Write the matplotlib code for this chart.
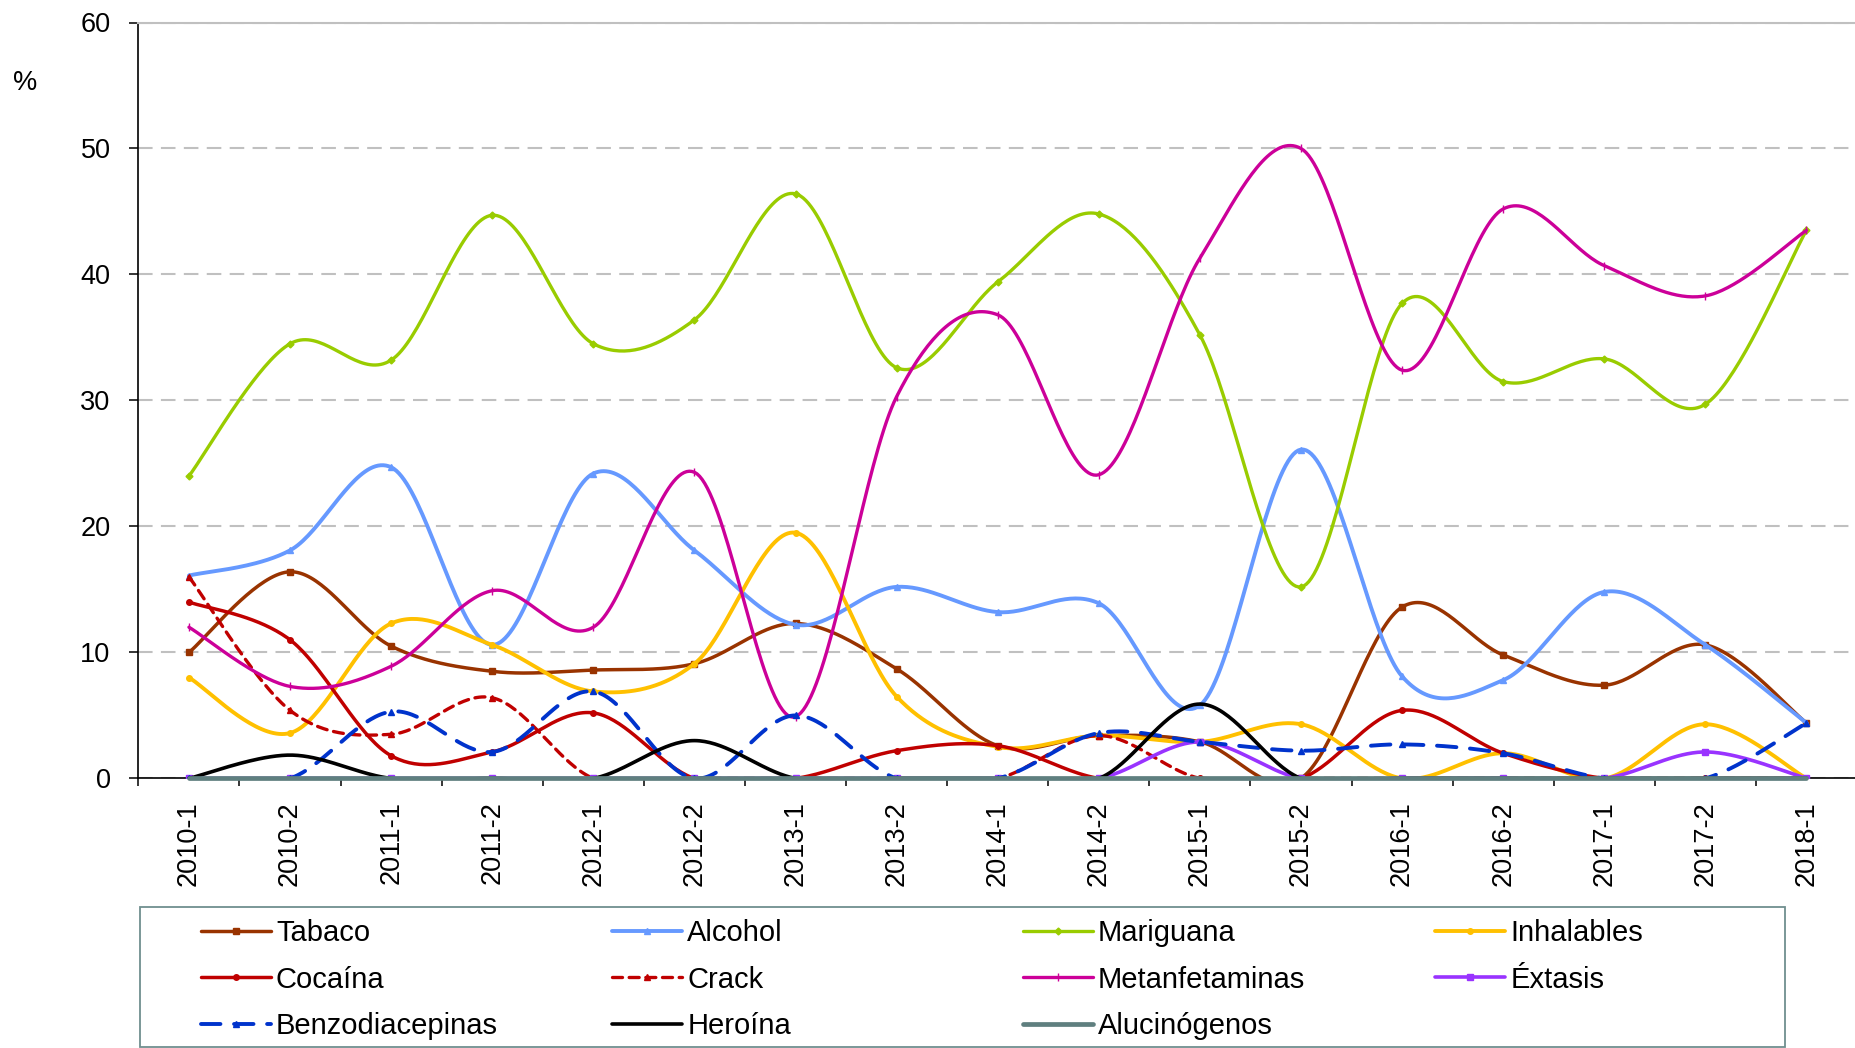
import numpy as np
import matplotlib
matplotlib.use('Agg')
import matplotlib.pyplot as plt
from matplotlib.lines import Line2D
from matplotlib.patches import Rectangle

plt.rcParams['font.family'] = ['Liberation Sans', 'DejaVu Sans']

periods = ['2010-1', '2010-2', '2011-1', '2011-2', '2012-1', '2012-2', '2013-1', '2013-2',
           '2014-1', '2014-2', '2015-1', '2015-2', '2016-1', '2016-2', '2017-1', '2017-2', '2018-1']

tabaco = [10.0, 16.4, 10.5, 8.5, 8.6, 9.1, 12.3, 8.7, 2.6, 3.4, 2.9, 0.0, 13.6, 9.8, 7.4, 10.6, 4.4]
alcohol = [16.1, 18.1, 24.7, 10.6, 24.2, 18.1, 12.2, 15.2, 13.2, 13.9, 5.8, 26.1, 8.1, 7.8, 14.8, 10.6, 4.4]
mariguana = [24.0, 34.5, 33.2, 44.7, 34.5, 36.4, 46.4, 32.6, 39.4, 44.8, 35.2, 15.2, 37.7, 31.5, 33.3, 29.7, 43.5]
inhalables = [8.0, 3.6, 12.3, 10.6, 6.9, 9.1, 19.5, 6.5, 2.5, 3.4, 2.9, 4.3, 0.0, 2.0, 0.0, 4.3, 0.0]
cocaina = [14.0, 11.0, 1.8, 2.1, 5.2, 0.0, 0.0, 2.2, 2.6, 0.0, 0.0, 0.0, 5.4, 2.0, 0.0, 0.0, 0.0]
crack = [16.0, 5.4, 3.5, 6.4, 0.0, 0.0, 0.0, 0.0, 0.0, 3.4, 0.0, 0.0, 0.0, 0.0, 0.0, 0.0, 0.0]
metanfetaminas = [12.0, 7.3, 8.9, 14.9, 12.0, 24.3, 4.9, 30.3, 36.8, 24.1, 41.3, 50.0, 32.4, 45.2, 40.7, 38.3, 43.5]
extasis = [0.0, 0.0, 0.0, 0.0, 0.0, 0.0, 0.0, 0.0, 0.0, 0.0, 2.9, 0.0, 0.0, 0.0, 0.0, 2.1, 0.0]
benzodiacepinas = [0.0, 0.0, 5.3, 2.1, 6.9, 0.0, 5.0, 0.0, 0.0, 3.6, 2.9, 2.2, 2.7, 2.0, 0.0, 0.0, 4.4]
heroina = [0.0, 1.85, 0.0, 0.0, 0.0, 3.0, 0.0, 0.0, 0.0, 0.0, 5.9, 0.0, 0.0, 0.0, 0.0, 0.0, 0.0]
alucinogenos = [0.0, 0.0, 0.0, 0.0, 0.0, 0.0, 0.0, 0.0, 0.0, 0.0, 0.0, 0.0, 0.0, 0.0, 0.0, 0.0, 0.0]

y_ticks = [0, 10, 20, 30, 40, 50, 60]

series = [
    ('Tabaco', tabaco, dict(color='#993300', lw=2.5, marker='s', ms=4.5)),
    ('Alcohol', alcohol, dict(color='#6699FF', lw=2.8, marker='^', ms=4.5)),
    ('Mariguana', mariguana, dict(color='#99CC00', lw=2.4, marker='D', ms=3.5)),
    ('Inhalables', inhalables, dict(color='#FFC000', lw=2.8, marker='o', ms=4)),
    ('Cocaína', cocaina, dict(color='#C00000', lw=2.5, marker='o', ms=4)),
    ('Crack', crack, dict(color='#C00000', lw=2.4, marker='^', ms=4, dashes=(3, 2))),
    ('Metanfetaminas', metanfetaminas, dict(color='#CC0099', lw=2.4, marker='|', ms=6)),
    ('Éxtasis', extasis, dict(color='#9933FF', lw=2.6, marker='s', ms=4.5)),
    ('Benzodiacepinas', benzodiacepinas, dict(color='#0033CC', lw=2.8, marker='^', ms=4, dashes=(5, 3.5))),
    ('Heroína', heroina, dict(color='#000000', lw=2.6, marker=None, ms=0)),
    ('Alucinógenos', alucinogenos, dict(color='#5F7F7F', lw=3.4, marker=None, ms=0)),
]


def smooth(y, n=40):
    y = np.asarray(y, float)
    x = np.arange(len(y), dtype=float)
    P = np.column_stack([x, y])
    Pext = np.vstack([P[0], P, P[-1]])
    t = np.linspace(0, 1, n)[:, None]
    out = []
    for i in range(len(P) - 1):
        p0, p1, p2, p3 = Pext[i], Pext[i + 1], Pext[i + 2], Pext[i + 3]
        c1 = p1 + (p2 - p0) / 6.0
        c2 = p2 - (p3 - p1) / 6.0
        seg = ((1 - t) ** 3) * p1 + 3 * ((1 - t) ** 2) * t * c1 + 3 * (1 - t) * t ** 2 * c2 + t ** 3 * p2
        out.append(seg if i == 0 else seg[1:])
    seg = np.vstack(out)
    return seg[:, 0], seg[:, 1]


W, H = 1855, 1048
fig = plt.figure(figsize=(W / 100, H / 100), dpi=100)
left = 138.4 / W
bottom = 1 - 778.4 / H
top = 1 - 22.5 / H
ax = fig.add_axes([left, bottom, (1857 - 138.4) / W, top - bottom])

x = np.arange(len(periods))
handles = {}
for k, (name, vals, st) in enumerate(series):
    sx, sy = smooth(vals)
    kw = dict(color=st['color'], lw=st['lw'], solid_capstyle='round', dash_capstyle='round')
    ls = '-'
    if 'dashes' in st:
        ls = (0, st['dashes'])
    is_bottom = name == 'Alucinógenos'
    ax.plot(sx, sy, linestyle=ls, zorder=(20 if is_bottom else 3 + k), clip_on=not is_bottom, **kw)
    if st['marker']:
        ax.plot(x, vals, linestyle='none', marker=st['marker'], ms=st['ms'], color=st['color'],
                mec=st['color'], zorder=3 + k)
    handles[name] = Line2D([], [], color=st['color'], lw=st['lw'], linestyle=ls,
                           marker=st['marker'] if st['marker'] else None, ms=st['ms'],
                           solid_capstyle='round', dash_capstyle='round')

ax.set_xlim(-0.5, 16.5)
ax.set_ylim(0, 60)
ax.set_yticks(y_ticks)
ax.set_yticklabels([str(v) for v in y_ticks], fontsize=19.5)
ax.set_xticks(x)
ax.set_xticklabels(periods, rotation=90, fontsize=19.5, va='top', ha='center')
ax.set_xticks(np.arange(-0.5, 17, 1.0), minor=True)
ax.tick_params(axis='x', which='major', length=0, pad=16.5)
ax.tick_params(axis='x', which='minor', length=6, width=1.1, direction='out', color='black')
ax.tick_params(axis='y', which='major', length=6.5, width=1.1, direction='out', pad=13.5)

for sp in ['left', 'bottom']:
    ax.spines[sp].set_linewidth(1.2)
    ax.spines[sp].set_color('black')
ax.spines['right'].set_visible(False)
ax.spines['top'].set_color('#c0c0c0')
ax.spines['top'].set_linewidth(1.5)
ax.yaxis.grid(True, color='#c0c0c0', linestyle=(0, (7, 4)), linewidth=1.5)
ax.set_axisbelow(True)

fig.text(25 / W, 1 - 83 / H, '%', fontsize=19.5, ha='center', va='center')

columns = [
    ['Tabaco', 'Cocaína', 'Benzodiacepinas'],
    ['Alcohol', 'Crack', 'Heroína'],
    ['Mariguana', 'Metanfetaminas', 'Alucinógenos'],
    ['Inhalables', 'Éxtasis'],
]
col_x = [200.7, 612.0, 1022.5, 1435.0]
for cx, names in zip(col_x, columns):
    fig.legend([handles[n] for n in names], names, loc='upper left',
               bbox_to_anchor=(cx / W, 1 - 919 / H), bbox_transform=fig.transFigure,
               frameon=False, borderpad=0, borderaxespad=0, handlelength=2.4,
               handletextpad=0.18, labelspacing=0.64, fontsize=21)

fig.add_artist(Rectangle((139.6 / W, 1 - 1047 / H), (1785 - 139.6) / W, (1047 - 907) / H,
                         transform=fig.transFigure, fill=False, edgecolor='#6f8f8f', linewidth=1.3))

fig.savefig('out.png', dpi=100)
